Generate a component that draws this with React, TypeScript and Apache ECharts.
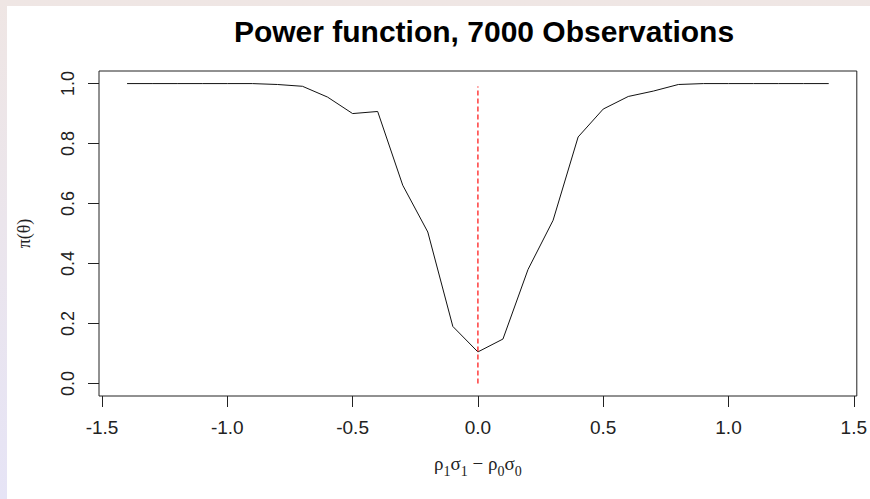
import React, { useEffect, useRef } from 'react';
import * as echarts from 'echarts';

const titleText = 'Power function, 7000 Observations';
const xValues = [-1.4, -1.3, -1.2, -1.1, -1.0, -0.9, -0.8, -0.7, -0.6, -0.5, -0.4, -0.3, -0.2, -0.1, 0.0, 0.1, 0.2, 0.3, 0.4, 0.5, 0.6, 0.7, 0.8, 0.9, 1.0, 1.1, 1.2, 1.3, 1.4];
const powerValues = [1, 1, 1, 1, 1, 1, 0.997, 0.991, 0.955, 0.9, 0.907, 0.661, 0.505, 0.19, 0.105, 0.148, 0.38, 0.544, 0.822, 0.915, 0.957, 0.975, 0.997, 1, 1, 1, 1, 1, 1];
const refLineX = [0, 0];
const refLineY = [0, 0.99];
const xTicks = [-1.5, -1.0, -0.5, 0.0, 0.5, 1.0, 1.5];
const yTicks = [0.0, 0.2, 0.4, 0.6, 0.8, 1.0];

export default function App() {
  const ref = useRef<HTMLDivElement>(null);
  useEffect(() => {
    if (!ref.current) return;
    const chart = echarts.init(ref.current, null, { renderer: 'svg' });
    chart.setOption({
      animation: false,
      backgroundColor: 'transparent',
      title: {
        text: titleText,
        left: 479,
        textAlign: 'center',
        top: 11,
        textStyle: { fontFamily: 'Liberation Sans, Arial, sans-serif', fontWeight: 'bold', fontSize: 30, color: '#000' },
      },
      grid: { left: 99, top: 71, right: 10, bottom: 103, show: true, borderColor: '#222', borderWidth: 1, backgroundColor: 'transparent' },
      xAxis: {
        type: 'value',
        min: -1.512,
        max: 1.512,
        splitLine: { show: false },
        axisLine: { show: false, onZero: false },
        axisTick: { show: true, length: 11, customValues: xTicks, lineStyle: { color: '#222' } },
        axisLabel: {
          customValues: xTicks,
          margin: 22,
          fontSize: 19,
          color: '#222',
          fontFamily: 'Liberation Sans, Arial, sans-serif',
          formatter: (v: number) => v.toFixed(1),
        },
        name: '{a|ρ}{s|1}{a|σ}{s|1}{a| − ρ}{s|0}{a|σ}{s|0}',
        nameLocation: 'middle',
        nameGap: 58,
        nameTextStyle: {
          rich: {
            a: { fontSize: 19, fontFamily: 'Liberation Serif, serif', color: '#222', lineHeight: 24, verticalAlign: 'top' },
            s: { fontSize: 14, fontFamily: 'Liberation Serif, serif', color: '#222', lineHeight: 24, verticalAlign: 'bottom', padding: [7, 0, 0, 0] },
          },
        },
      },
      yAxis: {
        type: 'value',
        min: -0.042,
        max: 1.042,
        splitLine: { show: false },
        axisLine: { show: false, onZero: false },
        axisTick: { show: true, length: 11, customValues: yTicks, lineStyle: { color: '#222' } },
        axisLabel: {
          customValues: yTicks,
          margin: 22,
          rotate: 90,
          fontSize: 18,
          color: '#222',
          fontFamily: 'Liberation Sans, Arial, sans-serif',
          formatter: (v: number) => v.toFixed(1),
        },
        name: 'π(θ)',
        nameLocation: 'middle',
        nameRotate: 90,
        nameGap: 66,
        nameTextStyle: { fontSize: 18, fontFamily: 'Liberation Serif, serif', color: '#222' },
      },
      series: [
        {
          type: 'line',
          data: xValues.map((x, i) => [x, powerValues[i]]),
          symbol: 'none',
          lineStyle: { color: '#111', width: 1 },
        },
        {
          type: 'line',
          data: refLineX.map((x, i) => [x, refLineY[i]]),
          symbol: 'none',
          lineStyle: { color: '#ff3c3c', width: 1.5, type: [5, 3] },
        },
      ],
    });
    return () => chart.dispose();
  }, []);
  return (
    <div style={{ position: 'absolute', left: 0, top: 0, width: 870, height: 499, background: 'linear-gradient(to bottom, #efe6e4, #e6e4f6)' }}>
      <div style={{ position: 'absolute', left: 7, top: 6, right: 0, bottom: 0, background: '#fff' }} />
      <div ref={ref} style={{ position: 'absolute', left: 0, top: 0, width: 870, height: 499 }} />
    </div>
  );
}
